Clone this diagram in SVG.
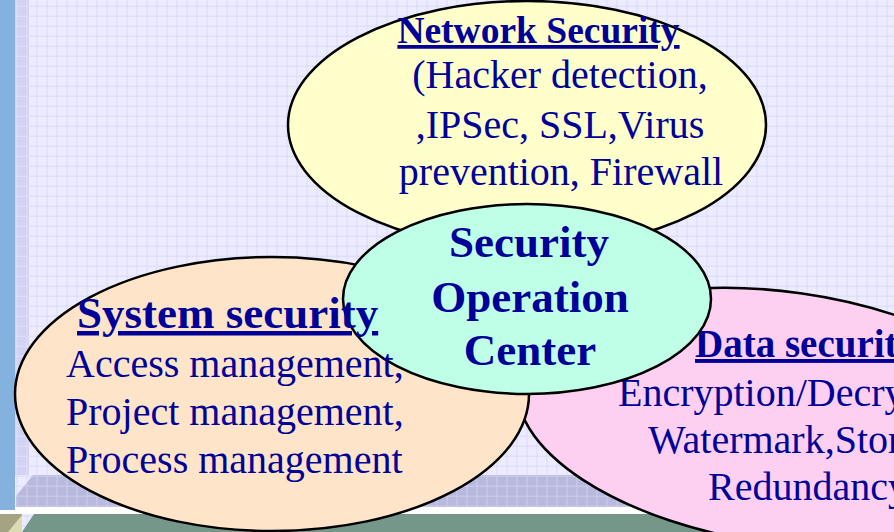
<svg xmlns="http://www.w3.org/2000/svg" width="894" height="532" viewBox="0 0 894 532">
<style>
.t{font-family:"Liberation Serif","Times New Roman",serif;fill:#000099;}
.b{font-weight:bold;}
.u{text-decoration:underline;}
.r{font-size:40px;}
.e{stroke:#000;stroke-width:2.5;}
</style>
<defs>
<pattern id="grid" x="6.5" y="5.7" width="10" height="10" patternUnits="userSpaceOnUse">
<rect width="10" height="10" fill="#ececfe"/>
<path d="M0 0.5H10M0.5 0V10" stroke="#d9d9fb" stroke-width="1" fill="none"/>
</pattern>
<pattern id="gridDark" x="6.5" y="5.7" width="10" height="10" patternUnits="userSpaceOnUse">
<rect width="10" height="10" fill="#b9b9de"/>
<path d="M0 0.5H10M0.5 0V10" stroke="#cdcdee" stroke-width="1" fill="none"/>
</pattern>
<pattern id="gridSide" x="6.5" y="5.7" width="10" height="10" patternUnits="userSpaceOnUse">
<rect width="10" height="10" fill="#d2d2f2"/>
<path d="M0 0.5H10M0.5 0V10" stroke="#e0e0fa" stroke-width="1" fill="none"/>
</pattern>
</defs>
<g id="background">
<rect width="894" height="532" fill="url(#grid)"/>
<rect x="15" y="0" width="14" height="475" fill="url(#gridSide)"/>
<polygon points="16,496 33,475 894,475 894,507 16,507" fill="url(#gridDark)"/>
<rect x="0" y="507" width="894" height="7" fill="#ffffff"/>
<rect x="0" y="0" width="15" height="510" fill="#85b1de"/>
<polygon points="34,514 894,514 894,532 22,532" fill="#74978a"/>
<rect x="0" y="514" width="22" height="18" fill="#a4a484"/>
<polygon points="22,515 22,532 8,532" fill="#dcdcb4"/>
</g>
<g id="network-security">
<ellipse class="e" cx="527" cy="125" rx="239" ry="124" fill="#ffffcc"/>
<text class="t b u" x="538.5" y="43" font-size="37.5" text-anchor="middle">Network Security</text>
<text class="t r" x="560" y="88" text-anchor="middle">(Hacker detection,</text>
<text class="t r" x="560" y="138" text-anchor="middle">,IPSec, SSL,Virus</text>
<text class="t r" x="561" y="185" text-anchor="middle">prevention, Firewall</text>
</g>
<g id="data-security">
<ellipse class="e" cx="783" cy="418" rx="268" ry="126" transform="rotate(8 783 418)" fill="#fdd0f1"/>
<text class="t b u" x="695" y="357" font-size="39">Data securit</text>
<text class="t r" x="618" y="406">Encryption/Decry</text>
<text class="t r" x="648" y="453">Watermark,Stor</text>
<text class="t r" x="708" y="500">Redundancy</text>
</g>
<g id="system-security">
<ellipse class="e" cx="272" cy="394" rx="257" ry="137" fill="#fee4c9"/>
</g>
<g id="security-operation-center">
<ellipse class="e" cx="527" cy="299" rx="184" ry="95" fill="#bfffe7"/>
<text class="t b" x="529" y="257" font-size="45" text-anchor="middle">Security</text>
<text class="t b" x="530" y="312" font-size="45" text-anchor="middle">Operation</text>
<text class="t b" x="530" y="365" font-size="45" text-anchor="middle">Center</text>
</g>
<g id="system-security-text">
<text class="t b u" x="77" y="328" font-size="45">System security</text>
<text class="t r" x="66" y="377">Access management,</text>
<text class="t r" x="66" y="425">Project management,</text>
<text class="t r" x="66" y="473">Process management</text>
</g>
</svg>
